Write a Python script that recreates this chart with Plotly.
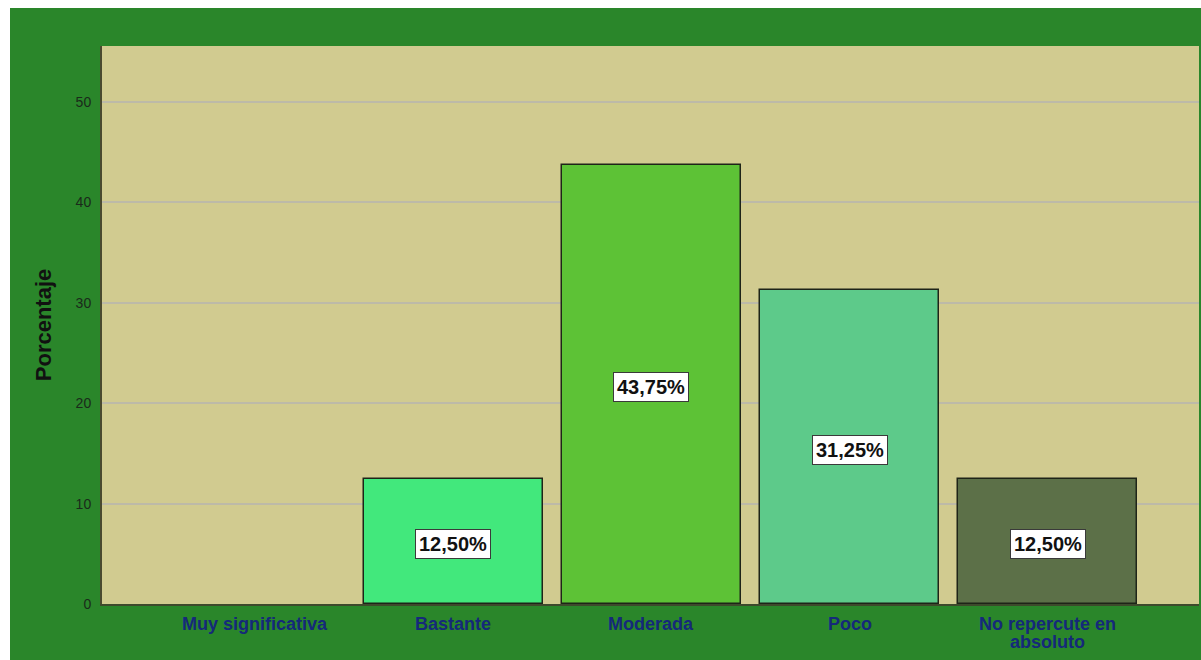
import plotly.graph_objects as go

categorias = ["Muy significativa", "Bastante", "Moderada", "Poco", "No repercute en<br>absoluto"]
porcentajes = [0.0, 12.5, 43.75, 31.25, 12.5]
etiquetas = ["", "12,50%", "43,75%", "31,25%", "12,50%"]
colores = ["#42e87c", "#42e87c", "#5dc236", "#5dca8a", "#5c7048"]
ticks_y = [0, 10, 20, 30, 40, 50]

W, H = 1201, 660
ML, MR, MT, MB = 102, 2, 46, 56
PW, PH = W - ML - MR, H - MT - MB
FONT = "Liberation Sans, Arial"

fig = go.Figure()
fig.add_trace(go.Bar(
    x=list(range(len(categorias))),
    y=porcentajes,
    width=0.9,
    marker=dict(color=colores,
                line=dict(color="#1e2418",
                          width=[1.5 if v > 0 else 0 for v in porcentajes])),
    hoverinfo="skip",
))

# value labels in white boxes at mid-height of each bar
for i, (v, t) in enumerate(zip(porcentajes, etiquetas)):
    if not t:
        continue
    fig.add_annotation(
        x=i, y=v / 2, yshift=-3, text="<b>" + t + "</b>", showarrow=False,
        font=dict(family=FONT, size=20, color="#111111"),
        bgcolor="white", bordercolor="#3a3a3a", borderwidth=1, borderpad=3,
    )

# category labels under the axis, one line at a time for tight line spacing
for i, c in enumerate(categorias):
    for k, linea in enumerate(c.split("<br>")):
        fig.add_annotation(
            x=i, y=0, yref="y", yanchor="middle", yshift=-20 - 18 * k,
            text="<b>" + linea + "</b>", showarrow=False,
            font=dict(family=FONT, size=18, color="#15297a"),
        )

# white strips along the top and left edges of the page
fig.add_shape(type="rect", xref="paper", yref="paper",
              x0=-ML / PW, x1=(10 - ML) / PW, y0=-MB / PH, y1=(H - MB) / PH,
              fillcolor="white", line=dict(width=0), layer="above")
fig.add_shape(type="rect", xref="paper", yref="paper",
              x0=-ML / PW, x1=(W - ML) / PW, y0=(H - 8 - MB) / PH, y1=(H - MB) / PH,
              fillcolor="white", line=dict(width=0), layer="above")

fig.update_layout(
    width=W, height=H,
    margin=dict(l=ML, r=MR, t=MT, b=MB),
    paper_bgcolor="#2a862a",
    plot_bgcolor="#d1cb90",
    showlegend=False,
    bargap=0,
    xaxis=dict(
        tickmode="array", tickvals=list(range(len(categorias))),
        showticklabels=False,
        range=[-0.775, 4.765], showgrid=False, zeroline=False,
        showline=True, linecolor="#3d4a2c", linewidth=2, ticks="",
    ),
    yaxis=dict(
        range=[0, 55.58], tickvals=ticks_y,
        showgrid=True, gridcolor="#bdbaa8", gridwidth=2,
        zeroline=False, showline=True, linecolor="#4a4a30", linewidth=2,
        ticks="", ticklabelstandoff=6,
        tickfont=dict(family=FONT, size=14, color="#1a2a1a"),
        title=dict(text="<b>Porcentaje</b>", standoff=18,
                   font=dict(family=FONT, size=22, color="#111111")),
    ),
)

fig.write_html("out.html")
